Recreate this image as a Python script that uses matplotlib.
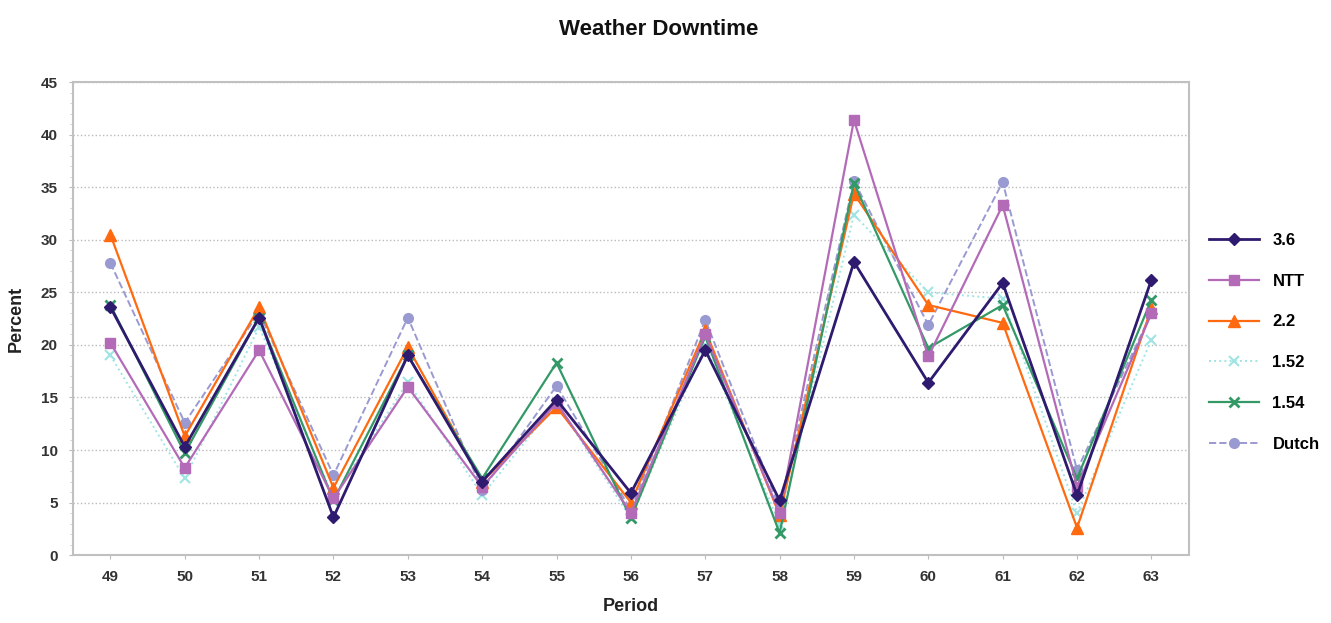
import matplotlib
matplotlib.use("Agg")
import matplotlib.pyplot as plt
from matplotlib.ticker import MultipleLocator

plt.rcParams['font.family'] = ['Liberation Sans', 'DejaVu Sans']
plt.rcParams['font.weight'] = 'bold'

# data
periods = ['49', '50', '51', '52', '53', '54', '55', '56', '57', '58', '59', '60', '61', '62', '63']
v36 = [23.6, 10.3, 22.6, 3.6, 19.0, 7.0, 14.8, 5.9, 19.5, 5.2, 27.9, 16.4, 25.9, 5.7, 26.2]
ntt = [20.2, 8.3, 19.5, 5.4, 16.0, 6.5, 14.5, 4.0, 21.0, 4.0, 41.4, 18.9, 33.3, 6.5, 23.0]
v22 = [30.5, 11.3, 23.6, 6.4, 19.8, 7.0, 14.1, 5.0, 21.4, 3.8, 34.4, 23.8, 22.1, 2.6, 23.5]
v152 = [19.0, 7.3, 21.7, 5.5, 16.5, 5.7, 14.5, 3.5, 20.0, 2.9, 32.4, 25.0, 24.4, 4.0, 20.5]
v154 = [23.8, 9.7, 22.6, 5.2, 19.0, 7.3, 18.3, 3.5, 20.8, 2.1, 35.4, 19.7, 23.8, 7.3, 24.3]
dutch = [27.8, 12.6, 23.1, 7.6, 22.6, 6.2, 16.1, 4.3, 22.4, 4.5, 35.6, 21.9, 35.5, 8.1, 23.0]

fig = plt.figure(figsize=(13.31, 6.23), dpi=100)
ax = fig.add_axes([0.055, 0.109, 0.838, 0.759])
x = range(len(periods))

ax.plot(x, v36, color='#2e1a6e', marker='D', ms=6, lw=2, label='3.6', zorder=6)
ax.plot(x, ntt, color='#b36bb8', marker='s', ms=7, lw=1.6, label='NTT', zorder=5)
ax.plot(x, v22, color='#ff6a10', marker='^', ms=8, lw=1.6, label='2.2', zorder=4)
ax.plot(x, v152, color='#a0e4e4', marker='x', ms=7, mew=1.5, lw=1.4, ls=':', label='1.52', zorder=3)
ax.plot(x, v154, color='#339966', marker='x', ms=7, mew=2, lw=1.6, label='1.54', zorder=4)
ax.plot(x, dutch, color='#9a9ad2', marker='o', ms=7, lw=1.4, ls='--', label='Dutch', zorder=3)

ax.set_xlim(-0.5, len(periods) - 0.5)
ax.set_ylim(0, 45)
ax.set_xticks(list(x))
ax.set_xticklabels(periods)
ax.yaxis.set_major_locator(MultipleLocator(5))
ax.yaxis.set_minor_locator(MultipleLocator(1))
ax.tick_params(axis='both', labelsize=11, colors='#333333', length=3, color='#bbbbbb', pad=8)
ax.tick_params(axis='y', which='minor', length=2, color='#cccccc')
for lab in ax.get_xticklabels() + ax.get_yticklabels():
    lab.set_fontweight('bold')
ax.grid(axis='y', ls=':', color='#bbbbbb', lw=1)
for s in ax.spines.values():
    s.set_color('#c0c0c0')
    s.set_linewidth(1.5)

ax.set_xlabel('Period', fontsize=13, fontweight='bold', color='#222222', labelpad=10)
ax.set_ylabel('Percent', fontsize=13, fontweight='bold', color='#222222', labelpad=12)
fig.suptitle('Weather Downtime', x=0.495, y=0.97, fontsize=16, fontweight='bold', color='#111111')

leg = ax.legend(loc='center left', bbox_to_anchor=(1.005, 0.45), frameon=False,
                fontsize=12, labelspacing=1.55, handlelength=3)
for t in leg.get_texts():
    t.set_fontweight('bold')

fig.savefig('out.png', dpi=100)
